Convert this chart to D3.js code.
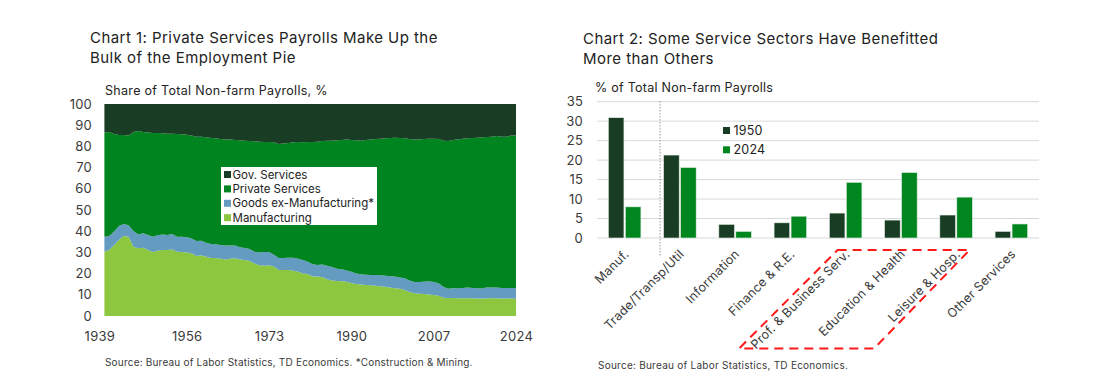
<!DOCTYPE html>
<html><head><meta charset="utf-8">
<script src="https://cdn.jsdelivr.net/npm/d3@7"></script>
<style>
body{margin:0;background:#fff;}
svg{display:block;font-family:Inter, "Open Sans", sans-serif;}
</style></head>
<body><svg id="c" width="1118" height="392"></svg>
<script>
// ---------- Chart 1 data ----------
const years = d3.range(1939, 2025);
const manufacturing = [30.3,31.1,33.5,35.8,37.7,37.4,32.7,31.9,32.2,31.1,30.2,30.8,31.1,31.1,31.4,30.3,30.2,29.9,29.6,28.3,28.6,28.0,27.4,27.4,27.0,26.7,27.0,27.2,26.7,26.4,25.9,24.8,23.9,23.7,23.9,23.3,21.7,21.7,21.7,21.4,20.9,20.1,19.8,18.6,18.6,18.3,17.3,16.8,16.5,16.4,16.2,15.6,15.1,14.8,14.6,14.5,14.3,14.0,13.8,13.5,13.1,12.9,12.3,11.3,10.7,10.5,10.4,10.2,9.9,9.6,8.6,8.5,8.5,8.4,8.4,8.4,8.4,8.3,8.3,8.4,8.4,8.4,8.3,8.3,8.2,8.1];
const goodsExManufacturing = [7.1,6.6,6.3,6.7,5.7,5.4,7.4,6.6,6.8,7.1,7.2,7.3,7.4,7.1,7.3,7.1,7.2,7.2,7.0,7.1,6.9,6.6,6.6,6.4,6.5,6.6,6.3,6.0,5.7,5.7,5.7,5.5,6.0,6.5,6.3,5.6,5.7,5.7,5.8,6.1,6.1,6.3,5.8,5.8,5.5,6.0,6.4,6.3,5.8,5.6,5.3,5.3,5.0,4.9,4.9,4.8,5.0,5.2,5.2,5.2,5.5,5.3,5.5,5.5,5.3,5.5,5.8,6.2,6.1,5.8,5.2,4.4,4.6,4.7,4.8,5.0,4.8,4.8,4.8,5.0,5.0,5.0,4.9,4.9,5.0,5.1];
const privateServices = [49.2,49.1,46.0,42.9,42.0,42.4,46.7,48.8,47.8,48.3,48.9,48.2,47.7,47.8,47.3,48.4,48.3,48.4,48.5,49.2,49.1,49.7,50.0,50.0,50.0,50.0,49.9,49.8,50.5,50.6,50.9,52.1,52.3,51.9,51.9,53.0,53.7,54.0,54.1,54.4,55.1,55.5,56.5,57.7,58.1,58.2,59.0,59.6,60.6,61.0,61.7,62.1,62.8,63.0,63.5,64.0,64.2,64.4,64.8,65.3,65.5,65.8,66.0,66.7,67.3,67.3,67.3,67.2,67.6,68.1,68.9,69.6,69.9,70.2,70.4,70.4,70.8,71.0,71.2,71.0,71.2,71.5,71.4,71.4,71.9,71.9];
const govServices = [13.4,13.2,14.2,14.6,14.6,14.8,13.2,12.7,13.2,13.5,13.7,13.7,13.8,14.0,14.0,14.2,14.3,14.5,14.9,15.4,15.4,15.7,16.0,16.2,16.5,16.7,16.8,17.0,17.1,17.3,17.5,17.6,17.8,17.9,17.9,18.1,18.9,18.6,18.4,18.1,17.9,18.1,17.9,17.9,17.8,17.5,17.3,17.3,17.1,17.0,16.8,17.0,17.1,17.3,17.0,16.7,16.5,16.4,16.2,16.0,15.9,16.0,16.2,16.5,16.7,16.7,16.5,16.4,16.4,16.5,17.3,17.5,17.0,16.7,16.4,16.2,16.0,15.9,15.7,15.6,15.4,15.1,15.4,15.4,14.9,14.9];
const seriesKeys = ["Manufacturing","Goods ex-Manufacturing*","Private Services","Gov. Services"];
const legendOrder1 = ["Gov. Services","Private Services","Goods ex-Manufacturing*","Manufacturing"];
const xTicks1 = [1939,1956,1973,1990,2007,2024];
const yTicks1 = [0,10,20,30,40,50,60,70,80,90,100];

// ---------- Chart 2 data ----------
const sectors = ["Manuf.","Trade/Transp/Util","Information","Finance & R.E.","Prof. & Business Serv.","Education & Health","Leisure & Hosp.","Other Services"];
const share1950 = [30.9,21.3,3.5,3.9,6.4,4.6,5.9,1.7];
const share2024 = [8.0,18.1,1.7,5.6,14.3,16.8,10.5,3.6];
const yearsLegend = ["1950","2024"];
const yTicks2 = [0,5,10,15,20,25,30,35];

const colors1 = {"Manufacturing":"#8dc63f","Goods ex-Manufacturing*":"#639cc0","Private Services":"#00841f","Gov. Services":"#193d24"};
const colors2 = {"1950":"#193d24","2024":"#00861f"};
const textCol = "#3a3a3a";

const svg = d3.select("#c");

function title(g, x, y, size, ls, txt){
  return g.append("text").attr("x",x).attr("y",y).attr("font-size",size).attr("letter-spacing",ls).attr("fill","#222").text(txt);
}

// ===== Chart 1 =====
const g1 = svg.append("g");
title(g1,90,43,15,0.45,"Chart 1: Private Services Payrolls Make Up the");
title(g1,90,63,15,0.45,"Bulk of the Employment Pie");
title(g1,105,95,12.5,0.3,"Share of Total Non-farm Payrolls, %");

const x1 = d3.scaleLinear().domain([1939,2024]).range([104.4,516]);
const y1 = d3.scaleLinear().domain([0,100]).range([316,104]);
const rows = years.map((yr,i)=>({year:yr,"Manufacturing":manufacturing[i],"Goods ex-Manufacturing*":goodsExManufacturing[i],"Private Services":privateServices[i],"Gov. Services":govServices[i]}));
const stacked = d3.stack().keys(seriesKeys)(rows);
const area = d3.area().x(d=>x1(d.data.year)).y0(d=>y1(d[0])).y1(d=>y1(Math.min(d[1],100)));
g1.selectAll("path.ar").data(stacked).join("path").attr("class","ar")
  .attr("d",area).attr("fill",d=>colors1[d.key]);

const ax1y = g1.append("g").attr("transform","translate(92,0)")
  .call(d3.axisLeft(y1).tickValues(yTicks1).tickSize(0).tickPadding(0));
ax1y.select(".domain").remove();
ax1y.selectAll("text").attr("font-size",13).attr("letter-spacing",0.2).attr("fill",textCol).attr("font-family","Inter, sans-serif");
const ax1x = g1.append("g").attr("transform","translate(0,332)")
  .call(d3.axisBottom(x1).tickValues(xTicks1).tickFormat(d3.format("d")).tickSize(0).tickPadding(0));
ax1x.select(".domain").remove();
ax1x.selectAll("text").attr("font-size",13).attr("letter-spacing",0.3).attr("fill",textCol).attr("font-family","Inter, sans-serif")
  .attr("dx",d=>d===1939?-5:0);

// legend 1
const lg1 = g1.append("g");
lg1.append("rect").attr("x",221).attr("y",167).attr("width",156).attr("height",58).attr("fill","#fff");
legendOrder1.forEach((k,i)=>{
  const yy = 178.5 + i*14.4;
  lg1.append("rect").attr("x",224).attr("y",yy-7.5).attr("width",7).attr("height",7).attr("fill",colors1[k]);
  lg1.append("text").attr("x",232.5).attr("y",yy).attr("font-size",11.5).attr("fill","#222").text(k);
});
g1.append("text").attr("x",105).attr("y",366).attr("font-size",10).attr("letter-spacing",0.2).attr("fill",textCol)
  .text("Source: Bureau of Labor Statistics, TD Economics. *Construction & Mining.");

// ===== Chart 2 =====
const g2 = svg.append("g");
title(g2,583,44,15,0.45,"Chart 2: Some Service Sectors Have Benefitted");
title(g2,583,64,15,0.45,"More than Others");
title(g2,595,92,12.5,0.25,"% of Total Non-farm Payrolls");

const x2 = d3.scaleBand().domain(sectors).range([597,1039]).paddingInner(0.41).paddingOuter(0.205);
const xs = d3.scaleBand().domain(yearsLegend).range([0,x2.bandwidth()]).paddingInner(0.08);
const y2 = d3.scaleLinear().domain([0,35]).range([238,101.7]);

g2.selectAll("line.grid").data(yTicks2).join("line").attr("class","grid")
  .attr("x1",597).attr("x2",1039).attr("y1",d=>y2(d)).attr("y2",d=>y2(d))
  .attr("stroke","#d9d9d9").attr("stroke-width",1);
const ax2y = g2.append("g").attr("transform","translate(583,0)")
  .call(d3.axisLeft(y2).tickValues(yTicks2).tickSize(0).tickPadding(0));
ax2y.select(".domain").remove();
ax2y.selectAll("text").attr("font-size",13).attr("letter-spacing",0.2).attr("fill",textCol).attr("font-family","Inter, sans-serif");

// divider
const divX = x2("Trade/Transp/Util") - 3.5;
g2.append("line").attr("x1",divX).attr("x2",divX).attr("y1",101).attr("y2",256)
  .attr("stroke","#9a9a9a").attr("stroke-width",1).attr("stroke-dasharray","1.5,1.5");

const barData = sectors.map((s,i)=>({s,vals:[{k:"1950",v:share1950[i]},{k:"2024",v:share2024[i]}]}));
const grp = g2.selectAll("g.grp").data(barData).join("g").attr("class","grp")
  .attr("transform",d=>`translate(${x2(d.s)},0)`);
grp.selectAll("rect").data(d=>d.vals).join("rect")
  .attr("x",d=>xs(d.k)).attr("width",xs.bandwidth())
  .attr("y",d=>y2(d.v)).attr("height",d=>y2(0)-y2(d.v))
  .attr("fill",d=>colors2[d.k]).attr("stroke","#e8efe8").attr("stroke-width",0.6);

// x labels
g2.selectAll("text.xl").data(sectors).join("text").attr("class","xl")
  .attr("transform",d=>`translate(${x2(d)+x2.bandwidth()/2+5},${255}) rotate(-45)`)
  .attr("text-anchor","end").attr("font-size",12.5).attr("letter-spacing",0.2).attr("fill",textCol).text(d=>d);

// legend 2
yearsLegend.forEach((k,i)=>{
  const yy = 135 + i*19.3;
  g2.append("rect").attr("x",723).attr("y",yy-8).attr("width",7).attr("height",7).attr("fill",colors2[k]);
  g2.append("text").attr("x",733.5).attr("y",yy).attr("font-size",12.5).attr("letter-spacing",0.2).attr("fill","#222").text(k);
});

// red dashed annotation
const cx = s => x2(s)+x2.bandwidth()/2;
const topY = 250, botY = 348.5, shift = botY-topY;
const tl = cx("Prof. & Business Serv.")-8, tr = cx("Leisure & Hosp.")+13.5;
const poly = [[tl,topY],[tr,topY],[tr-shift+3,botY],[tl-shift,botY]];
g2.append("path").attr("d","M"+poly.map(p=>p.join(",")).join("L")+"Z")
  .attr("fill","none").attr("stroke","#ff1a1a").attr("stroke-width",2).attr("stroke-dasharray","9,6");

g2.append("text").attr("x",598).attr("y",369).attr("font-size",10).attr("letter-spacing",0.25).attr("fill",textCol)
  .text("Source: Bureau of Labor Statistics, TD Economics.");
</script></body></html>
